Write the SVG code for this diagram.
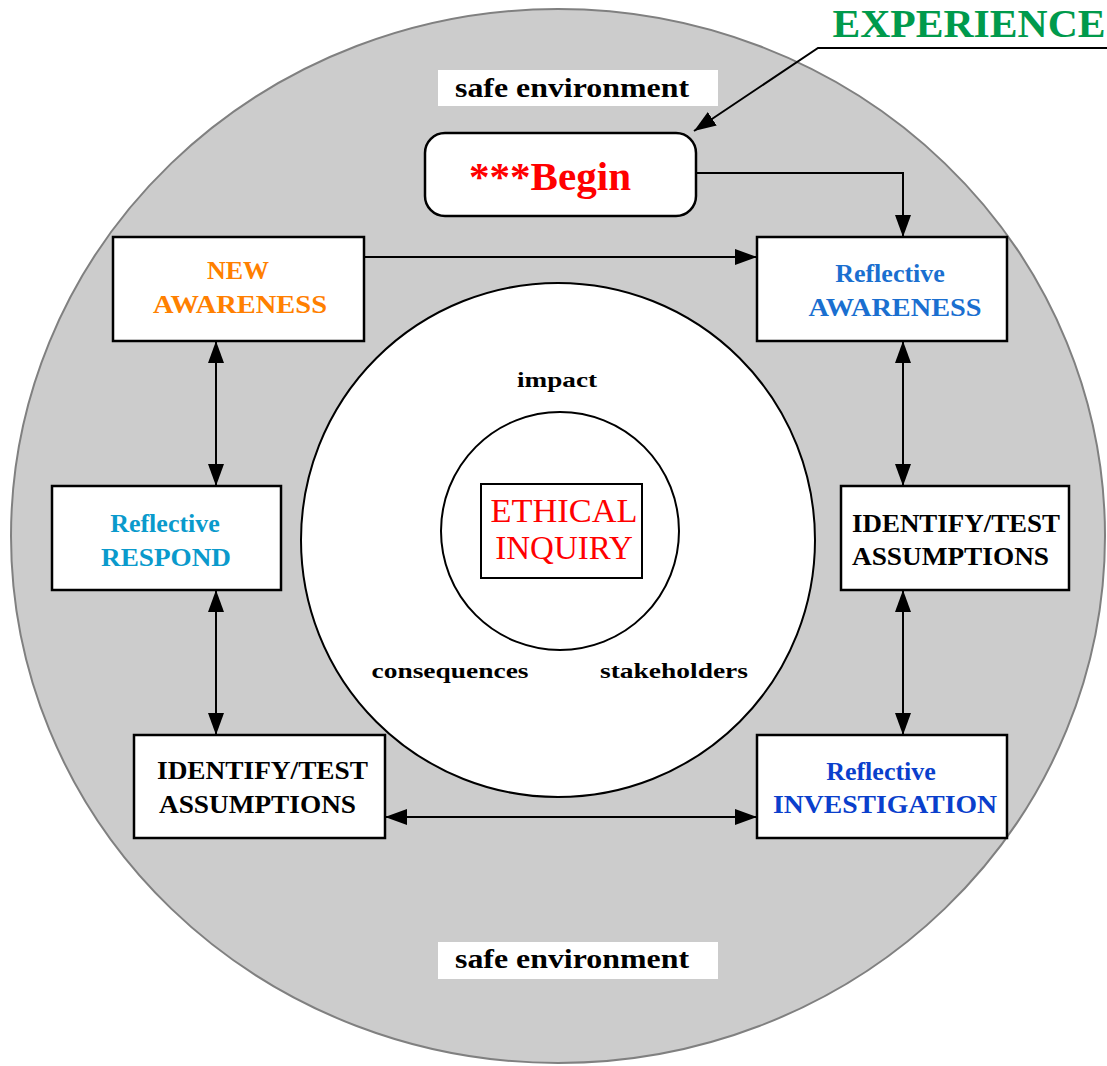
<svg xmlns="http://www.w3.org/2000/svg" width="1107" height="1066" viewBox="0 0 1107 1066">
<style>
  .box { fill: #ffffff; stroke: #000000; stroke-width: 2.5; }
  .t { font-family: "Liberation Serif", "Times New Roman", serif; font-weight: bold; text-anchor: middle; }
  .conn { fill: none; stroke: #000000; stroke-width: 2; }
</style>
<defs>
  <marker id="ah" viewBox="0 0 22 16" refX="22" refY="8" markerWidth="22" markerHeight="16" markerUnits="userSpaceOnUse" orient="auto-start-reverse">
    <path d="M0,0 L22,8 L0,16 z" fill="#000000"/>
  </marker>
</defs>
<rect x="0" y="0" width="1107" height="1066" fill="#ffffff"/>
<g id="safe-environment-area">
  <ellipse cx="558" cy="536" rx="547" ry="527" fill="#cccccc" stroke="#808080" stroke-width="2"/>
  <rect x="438" y="70" width="280" height="36" fill="#ffffff"/>
  <text class="t" x="572" y="97" font-size="28" textLength="234" lengthAdjust="spacingAndGlyphs">safe environment</text>
  <rect x="438" y="942" width="280" height="37" fill="#ffffff"/>
  <text class="t" x="572" y="968" font-size="28" textLength="234" lengthAdjust="spacingAndGlyphs">safe environment</text>
</g>
<g id="inquiry-circle">
  <circle cx="558" cy="540" r="257" fill="#ffffff" stroke="#000000" stroke-width="2"/>
  <text class="t" x="557" y="387" font-size="22" textLength="80" lengthAdjust="spacingAndGlyphs">impact</text>
  <text class="t" x="450" y="678" font-size="22" textLength="157" lengthAdjust="spacingAndGlyphs">consequences</text>
  <text class="t" x="674" y="678" font-size="22" textLength="148" lengthAdjust="spacingAndGlyphs">stakeholders</text>
</g>
<g id="ethical-inquiry">
  <circle cx="560" cy="531" r="119" fill="#ffffff" stroke="#000000" stroke-width="2"/>
  <rect x="481" y="484" width="161" height="94" fill="#ffffff" stroke="#000000" stroke-width="2"/>
  <text x="564" y="522" font-family="Liberation Serif, Times New Roman, serif" font-size="33" fill="#ff0000" text-anchor="middle" textLength="147" lengthAdjust="spacingAndGlyphs">ETHICAL</text>
  <text x="564" y="559" font-family="Liberation Serif, Times New Roman, serif" font-size="33" fill="#ff0000" text-anchor="middle">INQUIRY</text>
</g>
<g id="experience">
  <text class="t" x="969" y="37" font-size="41" fill="#009a4c" textLength="273" lengthAdjust="spacingAndGlyphs">EXPERIENCE</text>
</g>
<g id="begin">
  <rect x="425" y="133" width="271" height="83" rx="20" ry="20" class="box"/>
  <text class="t" x="550" y="190" font-size="40" fill="#ff0000" textLength="162" lengthAdjust="spacingAndGlyphs">***Begin</text>
</g>
<g id="new-awareness">
  <rect x="113" y="237" width="251" height="104" class="box"/>
  <text class="t" x="238" y="279" font-size="26" fill="#ff8000">NEW</text>
  <text class="t" x="240" y="313" font-size="26" fill="#ff8000" textLength="174" lengthAdjust="spacingAndGlyphs">AWARENESS</text>
</g>
<g id="reflective-awareness">
  <rect x="757" y="237" width="250" height="104" class="box"/>
  <text class="t" x="890" y="282" font-size="26" fill="#1a6fd0">Reflective</text>
  <text class="t" x="895" y="316" font-size="26" fill="#1a6fd0" textLength="173" lengthAdjust="spacingAndGlyphs">AWARENESS</text>
</g>
<g id="reflective-respond">
  <rect x="52" y="486" width="229" height="104" class="box"/>
  <text class="t" x="165" y="532" font-size="26" fill="#0a9acc">Reflective</text>
  <text class="t" x="166" y="566" font-size="26" fill="#0a9acc" textLength="130" lengthAdjust="spacingAndGlyphs">RESPOND</text>
</g>
<g id="identify-test-right">
  <rect x="841" y="486" width="228" height="104" class="box"/>
  <text x="852" y="532" font-family="Liberation Serif, Times New Roman, serif" font-weight="bold" font-size="26" fill="#000000" textLength="208" lengthAdjust="spacingAndGlyphs">IDENTIFY/TEST</text>
  <text x="852" y="565" font-family="Liberation Serif, Times New Roman, serif" font-weight="bold" font-size="26" fill="#000000" textLength="197" lengthAdjust="spacingAndGlyphs">ASSUMPTIONS</text>
</g>
<g id="identify-test-left">
  <rect x="134" y="735" width="251" height="103" class="box"/>
  <text x="157" y="779" font-family="Liberation Serif, Times New Roman, serif" font-weight="bold" font-size="26" fill="#000000" textLength="211" lengthAdjust="spacingAndGlyphs">IDENTIFY/TEST</text>
  <text x="159" y="813" font-family="Liberation Serif, Times New Roman, serif" font-weight="bold" font-size="26" fill="#000000" textLength="197" lengthAdjust="spacingAndGlyphs">ASSUMPTIONS</text>
</g>
<g id="reflective-investigation">
  <rect x="757" y="735" width="250" height="103" class="box"/>
  <text class="t" x="881" y="780" font-size="26" fill="#0a3fcc">Reflective</text>
  <text class="t" x="885" y="813" font-size="26" fill="#0a3fcc" textLength="224" lengthAdjust="spacingAndGlyphs">INVESTIGATION</text>
</g>
<g id="connectors">
  <polyline class="conn" points="1107,48 818,48 694,131" marker-end="url(#ah)"/>
  <polyline class="conn" points="696,173 903,173 903,237" marker-end="url(#ah)"/>
  <line class="conn" x1="364" y1="257" x2="757" y2="257" marker-end="url(#ah)"/>
  <line class="conn" x1="903" y1="341" x2="903" y2="486" marker-start="url(#ah)" marker-end="url(#ah)"/>
  <line class="conn" x1="903" y1="590" x2="903" y2="735" marker-start="url(#ah)" marker-end="url(#ah)"/>
  <line class="conn" x1="385" y1="817" x2="757" y2="817" marker-start="url(#ah)" marker-end="url(#ah)"/>
  <line class="conn" x1="216" y1="590" x2="216" y2="735" marker-start="url(#ah)" marker-end="url(#ah)"/>
  <line class="conn" x1="216" y1="341" x2="216" y2="486" marker-start="url(#ah)" marker-end="url(#ah)"/>
</g>
</svg>
